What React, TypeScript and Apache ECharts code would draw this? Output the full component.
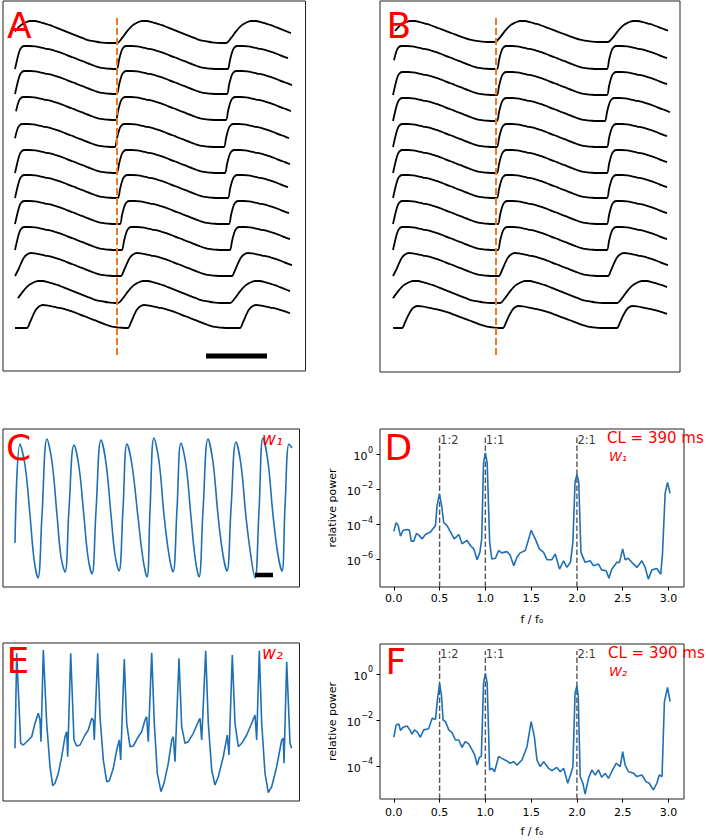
import React, { useEffect, useRef } from 'react';
import * as echarts from 'echarts';

const FONT = 'DejaVu Sans';

// ---------- Panels A / B: stacked action-potential traces ----------
// Templates: [time after upstroke, fraction of peak amplitude]
const sharpTemplate: [number, number][] = [
  [0, 0], [2, 0.38], [4, 0.72], [6, 0.91], [9, 1], [15, 1], [20, 0.98], [25, 0.94], [30, 0.89],
  [35, 0.85], [40, 0.79], [45, 0.72], [50, 0.64], [55, 0.55], [60, 0.47], [65, 0.38], [70, 0.3],
  [75, 0.21], [80, 0.13], [85, 0.06], [90, 0.03], [95, 0.01], [100, 0], [105, 0], [110, 0], [115, 0], [120, 0],
];
const mediumTemplate: [number, number][] = [
  [0, 0], [3, 0.25], [6, 0.55], [9, 0.8], [12, 0.94], [16, 1], [20, 0.98], [25, 0.94], [30, 0.89],
  [35, 0.85], [40, 0.79], [45, 0.72], [50, 0.64], [55, 0.55], [60, 0.47], [65, 0.38], [70, 0.3],
  [75, 0.21], [80, 0.13], [85, 0.06], [90, 0.03], [95, 0.01], [100, 0], [105, 0], [110, 0], [115, 0], [120, 0],
];
const roundTemplate: [number, number][] = [
  [0, 0], [5, 0.22], [10, 0.53], [15, 0.78], [20, 0.92], [25, 1], [30, 1], [35, 0.95], [40, 0.88],
  [45, 0.81], [50, 0.72], [55, 0.63], [60, 0.54], [65, 0.45], [70, 0.36], [75, 0.27], [80, 0.18],
  [85, 0.11], [90, 0.07], [95, 0.03], [100, 0.01], [105, 0], [110, 0], [115, 0], [120, 0],
];

const traceKindA = ['round', 'sharp', 'sharp', 'sharp', 'sharp', 'sharp', 'sharp', 'sharp', 'sharp', 'medium', 'round', 'medium'];
const upstrokesA = [
  [-10, 102, 211], [0, 102, 213], [0, 102, 212], [-1, 101, 211], [-2, 100, 209], [0, 102, 210],
  [0, 103, 213], [0, 105, 214], [0, 107, 215], [0, 106, 217], [-2, 103, 215], [-100, 12, 113, 225],
];
const troughA = [42, 68, 93, 119, 146, 172, 197, 223, 249, 275, 302, 327];
const ampA = [22, 23, 23, 23, 23, 23, 23, 23, 23, 23, 22, 23];

const traceKindB = ['round', 'sharp', 'sharp', 'sharp', 'sharp', 'sharp', 'sharp', 'sharp', 'sharp', 'medium', 'round', 'medium'];
const upstrokesB = [
  [-8, 102, 215], [-1, 104, 214], [0, 104, 214], [0, 104, 212], [0, 104, 214], [0, 104, 214],
  [0, 104, 214], [0, 105, 214], [0, 105, 214], [0, 106, 215], [-5, 107, 224], [-95, 9, 110, 224],
];
const troughB = [41, 68, 94, 120, 146, 172, 197, 223, 249, 275, 302, 327];
const ampB = [21, 23, 23, 23, 23, 23, 23, 23, 23, 23, 22, 22];

const traceEnd = 277;
const stimulusTimeA = 102;
const stimulusTimeB = 103;
const stimulusSpan = [17, 354];
const scaleBarA = [191, 252];
const scaleBarLevelA = 355;

// ---------- Panel C: w1 trace [time, amplitude] ----------
const traceW1: [number, number][] = [
  [0, 44], [5, 143], [10, 122], [15, 72], [19, 28], [23, 9], [27, 72], [32, 148],
  [37, 125], [42, 72], [46, 30], [50, 15], [54, 78], [59, 142],
  [64, 120], [69, 70], [73, 30], [77, 13], [81, 76], [86, 147],
  [91, 124], [96, 72], [100, 32], [104, 16], [108, 78], [112, 143],
  [117, 122], [123, 70], [128, 28], [132, 10], [135, 76], [139, 149],
  [144, 126], [149, 72], [154, 32], [158, 15], [162, 78], [166, 144],
  [171, 122], [176, 70], [180, 30], [184, 10], [188, 76], [193, 148],
  [198, 125], [203, 72], [208, 32], [212, 16], [216, 78], [221, 145],
  [226, 122], [231, 70], [236, 30], [240, 9], [244, 76], [248, 149],
  [253, 125], [258, 72], [263, 32], [267, 16], [270, 80], [274, 143], [277, 139],
];
const scaleBarC = [240, 258];
const scaleBarLevelC = 12;

// ---------- Panel E: w2 trace [time, amplitude] ----------
const traceW2: [number, number][] = [
  [0, 52.7], [1.7, 147.7], [5.7, 57.7], [8.3, 56], [11.7, 59.3], [16.7, 64.3], [20, 77.7], [23.3, 87.7], [25, 81], [26, 59.3],
  [28.3, 151], [31.7, 77.7], [35, 34.3], [37.7, 15.3], [40, 17.7], [43.3, 27.7], [46.7, 44.3], [50, 64.3], [51.7, 69.3], [52.7, 44.3],
  [55.7, 147.7], [59, 61], [61.7, 55], [65, 56], [70, 66], [73.3, 71], [76.7, 82.7], [78.3, 81], [79.3, 61],
  [82.7, 147.7], [85, 84.3], [88.3, 41], [91.7, 19.3], [94.3, 20.3], [98.3, 32.7], [101.7, 51], [104.3, 61], [105.7, 41],
  [109.3, 142], [111.7, 77.7], [115, 54.3], [118.3, 55], [123.3, 64.3], [126.7, 69.3], [130, 81], [131.7, 84.3], [133.3, 59.3],
  [136.7, 148.3], [139.3, 77.7], [142.3, 27.7], [146, 9.3], [149, 17.7], [153.3, 37.7], [156.7, 61], [158.3, 64.3], [160, 39.3],
  [164, 142.7], [166.7, 74.3], [170, 57.7], [173.3, 59.3], [178.3, 67.7], [183.3, 79.3], [185, 82.7], [186.7, 61],
  [190.7, 150.3], [193.3, 77.7], [196.7, 31], [200, 16], [203.3, 24.3], [208.3, 44.3], [212.3, 66], [214, 46],
  [217.3, 146], [220, 77.7], [223.3, 54.3], [226.7, 57.7], [231.7, 66], [236.7, 77.7], [240, 86], [241.7, 61],
  [244.3, 150.3], [246.7, 77.7], [250, 27.7], [253.3, 8.3], [256.7, 14.3], [261.7, 34.3], [266.7, 61], [268.3, 62.7], [269, 37.7],
  [271.7, 139.3], [275, 57.7], [276.7, 52.7],
];

// ---------- Panels D / F: spectra [f / f0, log10 relative power] ----------
const spectrumW1: [number, number][] = [
  [0, -4.42], [0.025, -3.92], [0.047, -4.08], [0.073, -4.69], [0.1, -4.37], [0.138, -4.31], [0.17, -4.35],
  [0.19, -4.98], [0.218, -4.98], [0.247, -4.54], [0.27, -4.62], [0.31, -4.85], [0.345, -4.6], [0.4, -4.46],
  [0.455, -4.08], [0.473, -2.92], [0.498, -2.29], [0.52, -2.88], [0.545, -3.92], [0.58, -4.08], [0.62, -4.46],
  [0.66, -4.85], [0.71, -4.6], [0.745, -5.13], [0.8, -4.94], [0.836, -5.23], [0.873, -5.42], [0.91, -6.04],
  [0.94, -5.62], [0.96, -4.85], [0.98, -0.52], [1.0, 0.06], [1.02, -0.52], [1.047, -5.04], [1.07, -6.0],
  [1.11, -5.96], [1.145, -5.52], [1.18, -5.65], [1.236, -5.58], [1.27, -5.77], [1.31, -6.38], [1.345, -5.9],
  [1.38, -5.65], [1.436, -5.52], [1.5, -4.37], [1.545, -4.85], [1.59, -5.42], [1.636, -5.62], [1.673, -6.04],
  [1.727, -6.04], [1.764, -5.71], [1.81, -6.58], [1.855, -6.1], [1.89, -6.48], [1.93, -6.19], [1.956, -5.04],
  [1.98, -1.58], [2.0, -1.19], [2.02, -1.58], [2.044, -5.62], [2.09, -6.19], [2.145, -6.1], [2.18, -6.38],
  [2.236, -6.29], [2.27, -6.62], [2.32, -6.67], [2.35, -7.1], [2.38, -6.6], [2.436, -6.19], [2.465, -6.19],
  [2.5, -5.42], [2.527, -6.04], [2.56, -5.96], [2.6, -6.19], [2.655, -6.48], [2.71, -6.1], [2.745, -6.48],
  [2.78, -7.15], [2.82, -6.62], [2.873, -6.54], [2.916, -6.87], [2.935, -5.71], [2.964, -2.25], [2.99, -1.62],
  [3.018, -2.25],
];
const spectrumW2: [number, number][] = [
  [0, -2.75], [0.025, -2.22], [0.055, -2.17], [0.073, -2.46], [0.1, -2.32], [0.145, -2.26], [0.175, -2.43],
  [0.2, -2.61], [0.225, -2.43], [0.255, -2.52], [0.29, -2.75], [0.327, -2.43], [0.38, -2.38], [0.418, -1.93],
  [0.455, -1.97], [0.48, -0.99], [0.5, -0.41], [0.52, -0.91], [0.538, -2.0], [0.564, -2.07], [0.6, -2.43],
  [0.636, -2.55], [0.673, -2.87], [0.71, -2.87], [0.745, -3.19], [0.78, -2.94], [0.818, -3.04], [0.855, -3.3],
  [0.884, -3.52], [0.91, -3.96], [0.935, -3.62], [0.956, -3.59], [0.98, -0.41], [1.0, 0.03], [1.02, -0.41],
  [1.047, -4.17], [1.073, -4.1], [1.1, -4.25], [1.145, -3.59], [1.18, -3.67], [1.23, -3.77], [1.27, -3.88],
  [1.31, -3.81], [1.345, -3.96], [1.4, -3.74], [1.455, -3.16], [1.5, -2.07], [1.535, -2.72], [1.564, -3.74],
  [1.6, -4.03], [1.636, -3.81], [1.69, -4.1], [1.727, -4.2], [1.78, -4.06], [1.818, -4.25], [1.855, -4.1],
  [1.9, -4.75], [1.935, -4.32], [1.956, -4.03], [1.98, -0.84], [2.0, -0.52], [2.015, -0.99], [2.036, -4.46],
  [2.065, -4.75], [2.09, -5.22], [2.127, -4.54], [2.164, -4.17], [2.2, -4.39], [2.236, -4.17], [2.27, -4.49],
  [2.31, -4.32], [2.345, -4.54], [2.38, -4.25], [2.43, -3.88], [2.473, -4.03], [2.5, -3.38], [2.527, -3.96],
  [2.564, -4.25], [2.62, -4.32], [2.655, -4.46], [2.71, -4.39], [2.755, -4.68], [2.79, -4.75], [2.836, -5.04],
  [2.873, -4.75], [2.9, -4.39], [2.93, -4.46], [2.956, -1.2], [2.99, -0.58], [3.018, -1.2],
];
const ratioFreqs = [0.5, 1.0, 2.0];
const ratioLabels = ['1:2', '1:1', '2:1'];
const ratioLineTop = 1; // log10
const freqTicks = [0, 0.5, 1, 1.5, 2, 2.5, 3];
const powerTicksD = [-6, -4, -2, 0];
const powerTicksF = [-4, -2, 0];

const templates: Record<string, [number, number][]> = { sharp: sharpTemplate, medium: mediumTemplate, round: roundTemplate };

function buildTrace(kind: string, ups: number[], amp: number, trough: number) {
  const tpl = templates[kind];
  const pts: [number, number][] = [];
  ups.forEach((u, i) => {
    const next = i + 1 < ups.length ? ups[i + 1] : Infinity;
    for (const [dt, f] of tpl) {
      const t = u + dt;
      if (t >= next) break;
      if (t < 0 || t > traceEnd) continue;
      pts.push([t, trough - f * amp]);
    }
  });
  return pts;
}

const powLabel = (v: number) => {
  const e = Math.round(v);
  return '{b|10}{s|' + (e < 0 ? '−' + Math.abs(e) : String(e)) + '}';
};

export default function App() {
  const ref = useRef<HTMLDivElement>(null);
  useEffect(() => {
    if (!ref.current) return;
    const chart = echarts.init(ref.current, undefined, { renderer: 'svg' });
    const frame = { show: true, borderColor: '#222', borderWidth: 1, backgroundColor: 'transparent' };
    const grids = [
      { left: 3, top: 1, width: 302.5, height: 370, ...frame },   // A
      { left: 380, top: 1, width: 300, height: 371, ...frame },   // B
      { left: 3, top: 429, width: 296.5, height: 158, ...frame }, // C
      { left: 380, top: 429, width: 304, height: 158, ...frame }, // D
      { left: 3, top: 643, width: 296.5, height: 158, ...frame }, // E
      { left: 380, top: 644, width: 304, height: 155, ...frame }, // F
    ];
    const hidden = { show: false };
    const specX = (gi: number, labelMargin: number) => ({
      type: 'value', gridIndex: gi, min: -0.151, max: 3.17,
      splitLine: hidden, axisLine: { show: false, onZero: false },
      axisTick: { show: true, inside: false, length: 3.5, lineStyle: { color: '#000' }, customValues: freqTicks },
      axisLabel: { fontFamily: FONT, fontSize: 11, color: '#000', margin: labelMargin, customValues: freqTicks, formatter: (v: number) => v.toFixed(1) },
      name: 'f / fₒ', nameLocation: 'middle', nameGap: 27,
      nameTextStyle: { fontFamily: FONT, fontSize: 11, color: '#000' },
    });
    const specY = (gi: number, min: number, max: number, ticks: number[]) => ({
      type: 'value', gridIndex: gi, min, max,
      splitLine: hidden, axisLine: { show: false, onZero: false },
      axisTick: { show: true, inside: false, length: 3.5, lineStyle: { color: '#000' }, customValues: ticks },
      axisLabel: {
        fontFamily: FONT, fontSize: 11, color: '#000', margin: 7, customValues: ticks, formatter: powLabel,
        rich: {
          b: { fontFamily: FONT, fontSize: 11, color: '#000', lineHeight: 16, verticalAlign: 'bottom' },
          s: { fontFamily: FONT, fontSize: 8, color: '#000', lineHeight: 16, verticalAlign: 'top', padding: [0, 0, 0, 0.5] },
        },
      },
      name: 'relative power', nameLocation: 'middle', nameGap: 42,
      nameTextStyle: { fontFamily: FONT, fontSize: 11, color: '#000' },
    });
    const plainAxis = (gi: number, min: number, max: number, inverse = false) => ({
      type: 'value', gridIndex: gi, min, max, inverse, show: false,
    });

    const series: any[] = [];
    const blk = { color: '#000', width: 1.8 };
    const addTraces = (gi: number, kinds: string[], ups: number[][], amps: number[], troughs: number[]) => {
      kinds.forEach((k, i) => {
        series.push({
          type: 'line', xAxisIndex: gi, yAxisIndex: gi, data: buildTrace(k, ups[i], amps[i], troughs[i]),
          showSymbol: false, symbol: 'none', smooth: 0.3, lineStyle: blk, silent: true,
        });
      });
    };
    addTraces(0, traceKindA, upstrokesA, ampA, troughA);
    addTraces(1, traceKindB, upstrokesB, ampB, troughB);
    const orange = { color: '#f0781e', width: 2, type: [7, 3] };
    series.push({ type: 'line', xAxisIndex: 0, yAxisIndex: 0, symbol: 'none', lineStyle: orange, z: 5,
      data: [[stimulusTimeA, stimulusSpan[0]], [stimulusTimeA, stimulusSpan[1]]] });
    series.push({ type: 'line', xAxisIndex: 1, yAxisIndex: 1, symbol: 'none', lineStyle: orange, z: 5,
      data: [[stimulusTimeB, stimulusSpan[0]], [stimulusTimeB, stimulusSpan[1]]] });
    series.push({ type: 'line', xAxisIndex: 0, yAxisIndex: 0, symbol: 'none', lineStyle: { color: '#000', width: 5 },
      data: [[scaleBarA[0], scaleBarLevelA], [scaleBarA[1], scaleBarLevelA]] });

    const blue = { color: '#1f6fb4', width: 1.6 };
    series.push({ type: 'line', xAxisIndex: 2, yAxisIndex: 2, data: traceW1, symbol: 'none', smooth: 0.4, lineStyle: blue });
    series.push({ type: 'line', xAxisIndex: 2, yAxisIndex: 2, symbol: 'none', lineStyle: { color: '#000', width: 4.5 }, z: 5,
      data: [[scaleBarC[0], scaleBarLevelC], [scaleBarC[1], scaleBarLevelC]] });
    series.push({ type: 'line', xAxisIndex: 4, yAxisIndex: 4, data: traceW2, symbol: 'none', lineStyle: blue });

    const addSpectrum = (gi: number, data: [number, number][], yMin: number) => {
      ratioFreqs.forEach((f) => {
        series.push({ type: 'line', xAxisIndex: gi, yAxisIndex: gi, symbol: 'none', silent: true,
          lineStyle: { color: '#555', width: 1.4, type: [5.5, 2.5] },
          data: [[f, yMin], [f, ratioLineTop]] });
      });
      series.push({ type: 'scatter', xAxisIndex: gi, yAxisIndex: gi, symbolSize: 1, itemStyle: { color: 'transparent' },
        data: ratioFreqs.map((f, i) => [f, ratioLineTop, ratioLabels[i]]),
        label: { show: true, formatter: (p: any) => p.data[2], position: [1, 4], align: 'left', verticalAlign: 'middle',
          fontFamily: FONT, fontSize: 11.5, color: '#000' } });
      series.push({ type: 'line', xAxisIndex: gi, yAxisIndex: gi, data, symbol: 'none', lineStyle: blue, z: 4 });
    };
    addSpectrum(3, spectrumW1, -7.6);
    addSpectrum(5, spectrumW2, -5.435);

    const redText = (t: string, x: number, y: number, size: number, italic = false) => ({
      type: 'text', x, y, z: 100,
      style: { text: t, fill: '#ff0000', fontFamily: FONT, fontSize: size, fontStyle: italic ? 'italic' : 'normal',
        textVerticalAlign: 'middle', textAlign: 'left' },
    });

    chart.setOption({
      animation: false,
      grid: grids,
      xAxis: [
        plainAxis(0, -12, 290.5), plainAxis(1, -13, 287), plainAxis(2, -12, 284.5), specX(3, 6),
        plainAxis(4, -12, 284.5), specX(5, 8),
      ],
      yAxis: [
        plainAxis(0, 0, 370, true), plainAxis(1, 0, 371, true), plainAxis(2, 0, 158),
        specY(3, -7.6, 1.4286, powerTicksD), plainAxis(4, 0, 158), specY(5, -5.435, 1.304, powerTicksF),
      ],
      series,
      graphic: [
        redText('A', 7, 25, 36), redText('B', 386.5, 25, 36), redText('C', 6, 447, 36), redText('D', 384.5, 447.5, 36),
        redText('E', 6.5, 660.5, 36), redText('F', 385.5, 661, 36),
        redText('w₁', 262, 439, 17, true), redText('w₂', 262, 653, 17, true),
        redText('CL = 390 ms', 607, 438, 15), redText('W₁', 609, 456, 13, true),
        redText('CL = 390 ms', 608, 653, 15), redText('W₂', 609, 671, 13, true),
      ],
    });
    return () => chart.dispose();
  }, []);
  return <div ref={ref} style={{ position: 'absolute', left: 0, top: 0, width: 706, height: 840, background: '#fff' }} />;
}
